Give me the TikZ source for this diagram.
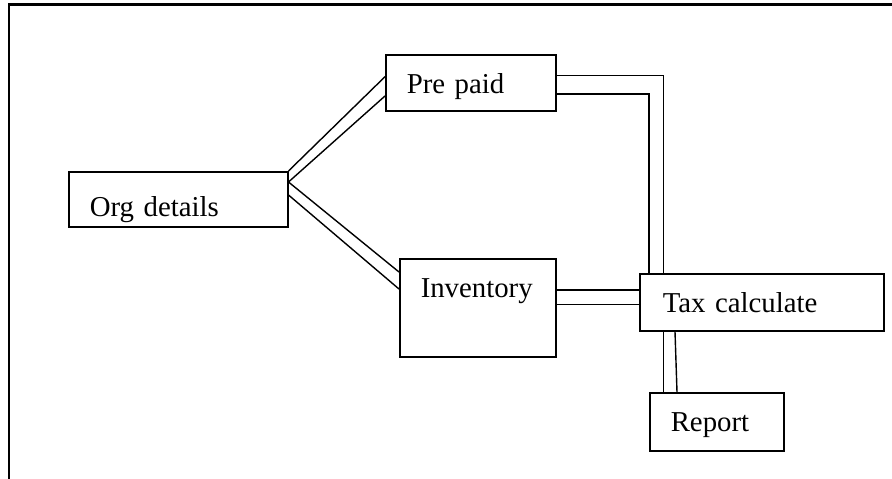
\documentclass[tikz,border=0pt]{standalone}
\usepackage{fontspec}
\setmainfont{Liberation Serif}
\usetikzlibrary{calc}

\tikzset{
  stagebox/.style={draw, line width=1.5pt, inner sep=0pt, align=left,
    anchor=north west, font=\fontsize{28.8}{34}\selectfont},
  link/.style={line width=1.4pt, line join=miter},
  frame/.style={line width=2.2pt}
}

\begin{document}
\begin{tikzpicture}[x=1pt, y=-1pt]
  \useasboundingbox (0,0) rectangle (892,479);

  % page frame: top and left edges
  \draw[frame] (9,479) -- (9,4.5) -- (892,4.5);

  % stages
  \node[stagebox, text width=219pt, text height=44.7pt, text depth=10.3pt]
    (org) at (68,171) {\hspace*{21pt}Org details};
  \node[stagebox, text width=170pt, text height=38.7pt, text depth=17.3pt]
    (pre) at (385,54) {\hspace*{21pt}Pre paid};
  \node[stagebox, text width=156pt, text height=38.7pt, text depth=59.3pt]
    (inv) at (399,258) {\hspace*{21pt}Inventory};
  \node[stagebox, text width=244pt, text height=38.7pt, text depth=18.3pt]
    (tax) at (639,273) {\hspace*{23pt}Tax calculate};
  \node[stagebox, text width=134pt, text height=39pt, text depth=19pt]
    (rep) at (649,392) {\hspace*{21pt}Report};

  % attachment points of the double connectors
  \coordinate (orgA) at ($(org.north east)+(0,11)$);
  \coordinate (orgB) at ($(org.north east)+(0,24)$);
  \coordinate (preA) at ($(pre.north west)+(0,22.7)$);
  \coordinate (preB) at ($(pre.north west)+(0,42)$);
  \coordinate (invA) at ($(inv.north west)+(0,14)$);
  \coordinate (invB) at ($(inv.north west)+(0,31)$);

  \coordinate (preC) at ($(pre.north east)+(0,21.7)$);
  \coordinate (preD) at ($(pre.north east)+(0,40)$);
  \coordinate (taxC) at ($(tax.north west)+(24.3,0)$);
  \coordinate (taxD) at ($(tax.north west)+(10,0)$);

  \coordinate (invE) at ($(inv.north east)+(0,32)$);
  \coordinate (invF) at ($(inv.north east)+(0,46.3)$);

  \coordinate (taxG) at ($(tax.south west)+(24.3,0)$);
  \coordinate (taxH) at ($(tax.south west)+(36,0)$);
  \coordinate (repG) at ($(rep.north west)+(14.3,0)$);
  \coordinate (repH) at ($(rep.north west)+(28,0)$);

  % Org details -> Pre paid
  \draw[link] (org.north east) -- (preA);
  \draw[link] (orgA) -- (preB);
  % Org details -> Inventory
  \draw[link] (orgA) -- (invA);
  \draw[link] (orgB) -- (invB);
  % Pre paid -> Tax calculate
  \draw[link] (preC) -| (taxC);
  \draw[link] (preD) -| (taxD);
  % Inventory -> Tax calculate
  \draw[link] (invE) -- (invE -| tax.west);
  \draw[link] (invF) -- (invF -| tax.west);
  % Tax calculate -> Report
  \draw[link] (taxG) -- (repG);
  \draw[link] (taxH) -- (repH);
\end{tikzpicture}
\end{document}
